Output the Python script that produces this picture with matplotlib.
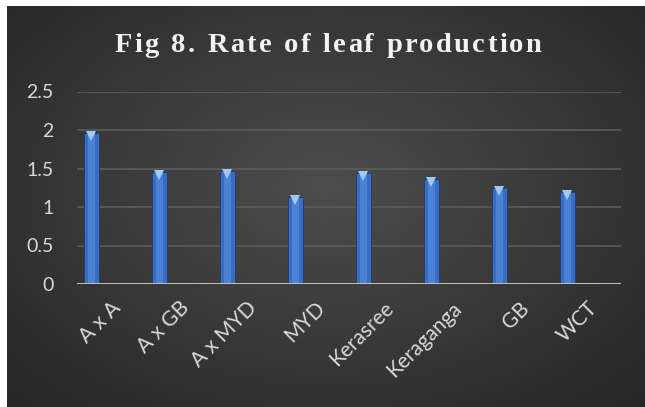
import numpy as np
import matplotlib.pyplot as plt
from matplotlib.transforms import offset_copy

categories = ["A x A", "A x GB", "A x MYD", "MYD", "Kerasree", "Keraganga", "GB", "WCT"]
leaf_rate = [1.96, 1.46, 1.47, 1.13, 1.44, 1.37, 1.25, 1.19]
y_ticks = [0, 0.5, 1, 1.5, 2, 2.5]
y_tick_labels = ["0", "0.5", "1", "1.5", "2", "2.5"]
title = "Fig 8. Rate of leaf production"

W, H = 645, 407
fig = plt.figure(figsize=(W / 100, H / 100), dpi=100)
fig.patch.set_facecolor("white")

# dark radial-gradient panel behind everything
bg = fig.add_axes([7 / W, 0, 1 - 7 / W, 1 - 6 / H])
bg.set_axis_off()
yy, xx = np.mgrid[0:1:300j, 0:1:400j]
r = np.sqrt(((xx - 0.5) / 0.75) ** 2 + ((yy - 0.45) / 0.8) ** 2)
shade = np.clip(0.30 - 0.16 * r, 0.14, 0.30)
bg.imshow(np.dstack([shade] * 3), aspect="auto", extent=[0, 1, 0, 1], interpolation="bilinear")

ax = fig.add_axes([77 / W, 123 / H, 544 / W, 192.5 / H])
ax.set_facecolor("none")
x = np.arange(len(categories))
pos = x - 0.29
bw = 0.22

ax.bar(pos, leaf_rate, width=bw, color="#3a6cc2", edgecolor="#1d3c70", linewidth=0.6, zorder=3)
ax.bar(pos, leaf_rate, width=bw * 0.45, color="#4a82d6", linewidth=0, zorder=4)
# light bevel triangle sitting just inside the top of each bar
tip = offset_copy(ax.transData, fig=fig, y=-3, units="dots")
ax.plot(pos, leaf_rate, linestyle="none", marker="v", markersize=7,
        color="#a3c8f2", markeredgewidth=0, zorder=5, transform=tip)

ax.set_xlim(-0.5, len(categories) - 0.5)
ax.set_ylim(0, 2.5)
ax.set_yticks(y_ticks)
ax.set_yticklabels(y_tick_labels)
ax.yaxis.grid(True, color="#5c5c5c", linewidth=1.2, zorder=1)
ax.axhline(0, color="#bdbdbd", linewidth=2.2, zorder=6)
for s in ax.spines.values():
    s.set_visible(False)
ax.tick_params(length=0, colors="#d9d9d9", labelsize=14)
for t in ax.get_yticklabels():
    t.set_fontfamily("Lato")
ax.tick_params(axis="y", pad=17)

ax.set_xticks(x)
ax.set_xticklabels(categories, rotation=45, ha="right", va="top",
                   rotation_mode="anchor", fontfamily="Lato", fontsize=15)
ax.tick_params(axis="x", pad=10)

# title drawn letter by letter to get the wide tracking
renderer = fig.canvas.get_renderer()
tkw = dict(fontfamily="Liberation Serif", fontweight="bold", fontsize=20.5, color="#f2f2f2")
spacing = 2.3
widths = []
for ch in title:
    t = fig.text(0, 0, ch if ch != " " else "i", **tkw)
    widths.append(t.get_window_extent(renderer).width)
    t.remove()
total = sum(widths) + spacing * (len(title) - 1)
cx = 328 - total / 2
for ch, w in zip(title, widths):
    if ch != " ":
        fig.text(cx / W, 1 - 52 / H, ch, ha="left", va="baseline", **tkw)
    cx += w + spacing

fig.savefig("out.png", dpi=100)
